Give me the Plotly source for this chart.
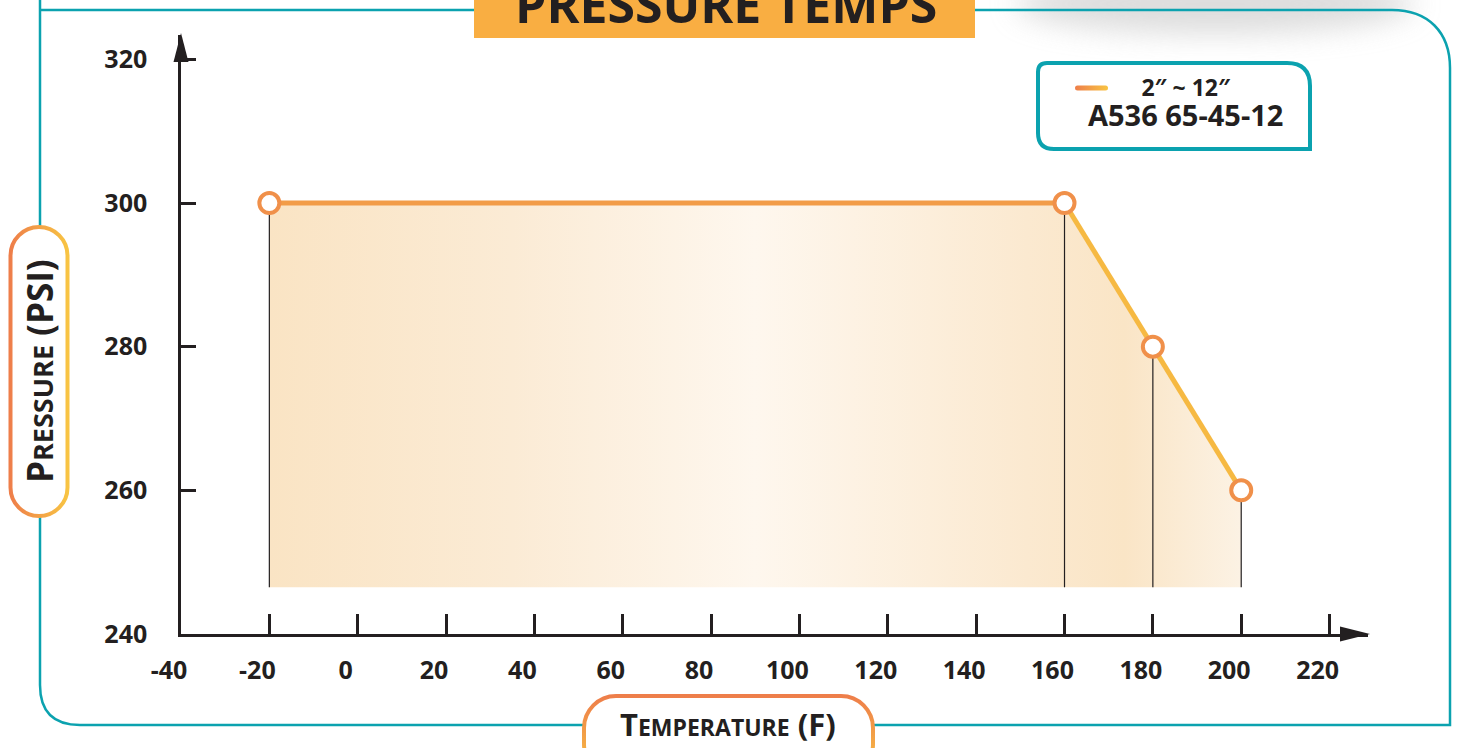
import base64
import plotly.graph_objects as go

# ---------------- data ----------------
temps_f = [-20, 160, 180, 200]
pressure_psi = [300, 300, 280, 260]
fill_floor_psi = 246.5
x_tick_vals = [-40, -20, 0, 20, 40, 60, 80, 100, 120, 140, 160, 180, 200, 220]
y_tick_vals = [240, 260, 280, 300, 320]
x_tick_text = [str(v) for v in x_tick_vals]
y_tick_text = [str(v) for v in y_tick_vals]
x_range = [-40, 228.7]
y_range = [240, 323.4]
title_text = "PRESSURE TEMPS"
legend_size_text = "2″ ~ 12″"
legend_grade_text = "A536 65-45-12"
y_title_html = "P<span style='font-size:27px'>RESSURE</span> (PSI)"
x_title_html = "T<span style='font-size:23px'>EMPERATURE</span> (F)"

# ---------------- layout geometry ----------------
W, H = 1458, 748
L, R, T, B = 181, 90, 35, 114
PW, PH = W - L - R, H - T - B
INK = "#231F20"
TEAL = "#0BA2AF"
FONT = "Open Sans"


def px(xp):
    return (xp - L) / PW


def py(yp):
    return (H - B - yp) / PH


# ---------------- decorative background (svg) ----------------
svg = f"""<svg xmlns='http://www.w3.org/2000/svg' width='{W}' height='{H}' viewBox='0 0 {W} {H}'>
<defs>
<linearGradient id='gh' x1='0' y1='0' x2='1' y2='0'><stop offset='0' stop-color='#EE7E4A'/><stop offset='1' stop-color='#F8C443'/></linearGradient>
<linearGradient id='gv' x1='0' y1='0' x2='0' y2='1'><stop offset='0' stop-color='#EE7E4A'/><stop offset='1' stop-color='#F8C443'/></linearGradient>
<filter id='bl' x='-50%' y='-200%' width='200%' height='500%'><feGaussianBlur stdDeviation='14'/></filter>
</defs>
<ellipse cx='1215' cy='4' rx='200' ry='30' fill='#cfcfcf' opacity='0.7' filter='url(#bl)'/>
<path d='M40,0 L40,685 Q40,725 80,725 L1450,725 L1450,68 C1450,32 1428,10 1392,10 L40,10' fill='none' stroke='{TEAL}' stroke-width='2.5'/>
<path d='M474,38 L474,0 L975,0 L975,38 Z' fill='#F9AE42'/>
<rect x='10.5' y='227' width='57' height='289' rx='28.5' ry='28.5' fill='white' stroke='url(#gh)' stroke-width='4'/>
<rect x='584' y='696' width='289' height='80' rx='32' ry='32' fill='white' stroke='url(#gv)' stroke-width='4'/>
<path d='M1047,63 L1287,63 Q1310,63 1310,86 L1310,149 L1054,149 Q1038,149 1038,133 L1038,72 Q1038,63 1047,63 Z' fill='white' stroke='{TEAL}' stroke-width='4'/>
<rect x='1075' y='85.5' width='33' height='5' rx='2.5' ry='2.5' fill='url(#gh)'/>
</svg>"""
svg_uri = "data:image/svg+xml;base64," + base64.b64encode(svg.encode("utf-8")).decode("ascii")

fig = go.Figure()

# floor for the filled area
fig.add_trace(go.Scatter(
    x=temps_f, y=[fill_floor_psi] * len(temps_f), mode="lines",
    line=dict(width=0, color="rgba(0,0,0,0)"), hoverinfo="skip", showlegend=False))
# gradient fill
fig.add_trace(go.Scatter(
    x=temps_f, y=pressure_psi, mode="lines", fill="tonexty",
    line=dict(width=0, color="rgba(0,0,0,0)"),
    fillgradient=dict(type="horizontal", colorscale=[
        [0.0, "#FAE4C4"], [0.25, "#FBEBD5"], [0.5, "#FEF7EE"], [0.78, "#FBE9D0"],
        [0.88, "#FAE5C6"], [1.0, "#FCF2E4"]]),
    hoverinfo="skip", showlegend=False))

# drop lines from each point to the floor
drop_x, drop_y = [], []
for xv, yv in zip(temps_f, pressure_psi):
    drop_x += [xv, xv, None]
    drop_y += [yv, fill_floor_psi, None]
fig.add_trace(go.Scatter(x=drop_x, y=drop_y, mode="lines",
                         line=dict(color=INK, width=1.2), hoverinfo="skip", showlegend=False))

# main line (flat part then declining part)
fig.add_trace(go.Scatter(x=temps_f[:2], y=pressure_psi[:2], mode="lines",
                         line=dict(color="#F29C48", width=5), showlegend=False))
fig.add_trace(go.Scatter(x=temps_f[1:], y=pressure_psi[1:], mode="lines",
                         line=dict(color="#F6B942", width=5), showlegend=False))
# markers
fig.add_trace(go.Scatter(x=temps_f, y=pressure_psi, mode="markers",
                         marker=dict(size=20, color="white", line=dict(color="#F0904A", width=4)),
                         showlegend=False, cliponaxis=False))

axis_common = dict(showline=True, linecolor=INK, linewidth=2.5, showgrid=False, zeroline=False,
                   ticks="inside", tickcolor=INK, tickwidth=2.5,
                   tickfont=dict(family=FONT, size=25, color=INK, weight="bold"))
fig.update_xaxes(range=x_range, tickvals=x_tick_vals, ticktext=x_tick_text, ticklen=20,
                 ticklabelstandoff=12, ticklabelshift=-12, **axis_common)
fig.update_yaxes(range=y_range, tickvals=y_tick_vals, ticktext=y_tick_text, ticklen=15,
                 ticklabelstandoff=26, **axis_common)

shapes = [
    # y-axis arrow
    dict(type="path", xref="paper", yref="paper",
         path=f"M {px(181)},{py(33)} L {px(173.5)},{py(62)} L {px(188.5)},{py(62)} Z",
         fillcolor=INK, line=dict(width=0)),
    # x-axis arrow
    dict(type="path", xref="paper", yref="paper",
         path=f"M {px(1370)},{py(634)} L {px(1340)},{py(626.5)} L {px(1340)},{py(641.5)} Z",
         fillcolor=INK, line=dict(width=0)),
]

legend_html = (f"<b><span style='font-size:23px'>{legend_size_text}</span></b><br>"
               f"<b><span style='font-size:29px'>{legend_grade_text}</span></b>")

annotations = [
    dict(text=f"<b>{title_text}</b>", x=px(726), y=py(4.5), xref="paper", yref="paper",
         showarrow=False, font=dict(family=FONT, size=50, color=INK), xanchor="center", yanchor="middle"),
    dict(text=f"<b>{y_title_html}</b>", x=px(39), y=py(371), xref="paper", yref="paper",
         showarrow=False, textangle=-90, font=dict(family=FONT, size=35, color=INK),
         xanchor="center", yanchor="middle"),
    dict(text=f"<b>{x_title_html}</b>", x=px(728), y=py(724), xref="paper", yref="paper",
         showarrow=False, font=dict(family=FONT, size=31, color=INK),
         xanchor="center", yanchor="middle"),
    dict(text=legend_html, x=px(1185), y=py(102), xref="paper", yref="paper",
         showarrow=False, font=dict(family=FONT, size=23, color=INK), xanchor="center",
         yanchor="middle", align="center"),
]

fig.update_layout(
    width=W, height=H, autosize=False,
    margin=dict(l=L, r=R, t=T, b=B, pad=0),
    paper_bgcolor="white", plot_bgcolor="rgba(0,0,0,0)",
    showlegend=False,
    shapes=shapes, annotations=annotations,
    images=[dict(source=svg_uri, xref="paper", yref="paper", x=px(0), y=py(0),
                 sizex=W / PW, sizey=H / PH, sizing="stretch",
                 xanchor="left", yanchor="top", layer="below")],
)

fig.write_html("out.html", config={"displayModeBar": False},
               post_script="document.body.style.margin='0';document.body.style.overflow='hidden';")
